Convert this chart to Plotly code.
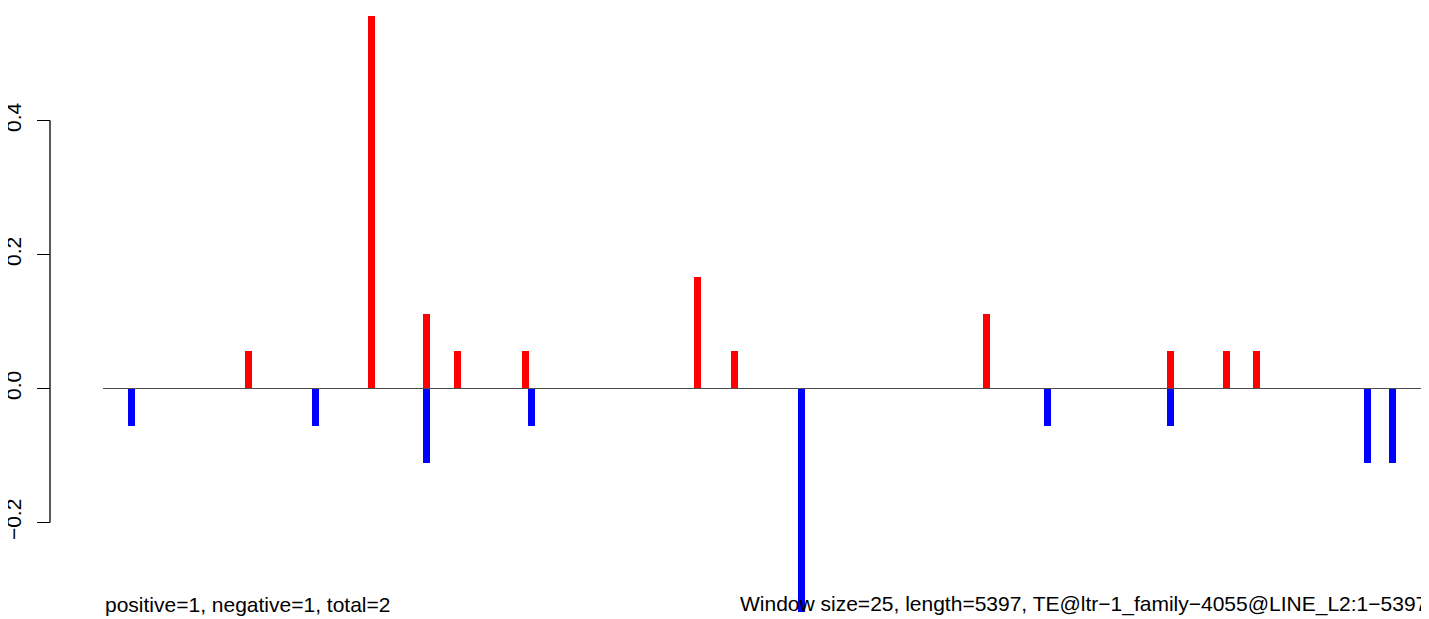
import plotly.graph_objects as go

# ---- data ----
seq_length = 5397
pos_x = [591, 1092, 1316, 1442, 1719, 2419, 2570, 3595, 4344, 4572, 4694]
pos_y = [0.0556, 0.5556, 0.1111, 0.0556, 0.0556, 0.1667, 0.0556, 0.1111, 0.0556, 0.0556, 0.0556]
neg_x = [115, 864, 1316, 1743, 2842, 3843, 4344, 5146, 5248]
neg_y = [-0.0556, -0.0556, -0.1111, -0.0556, -0.3333, -0.0556, -0.0556, -0.1111, -0.1111]
y_ticks = [-0.2, 0.0, 0.2, 0.4]
y_tick_labels = ["\u22120.2", "0.0", "0.2", "0.4"]
left_text = "positive=1, negative=1, total=2"
right_text = "Window size=25, length=5397, TE@ltr\u22121_family\u22124055@LINE_L2:1\u22125397"

# ---- style ----
# the page body has an 8px margin, so the figure is sized to fill the rest of the window
W, H = 1421, 611
FONT = "Liberation Sans, Arial, Helvetica, sans-serif"
bar_w = 27
plot_left_px = 95
axis_px = 42

fig = go.Figure()
fig.add_trace(go.Bar(x=pos_x, y=pos_y, width=bar_w, marker=dict(color="#ff0000", line=dict(width=0)),
                     showlegend=False, hoverinfo="skip"))
fig.add_trace(go.Bar(x=neg_x, y=neg_y, width=bar_w, marker=dict(color="#0000ff", line=dict(width=0)),
                     showlegend=False, hoverinfo="skip"))
fig.add_trace(go.Scatter(x=[0, seq_length], y=[0, 0], mode="lines",
                         line=dict(color="#4d4d4d", width=1), showlegend=False, hoverinfo="skip"))

fig.add_shape(type="line", xref="paper", yref="y",
              x0=axis_px / W, x1=axis_px / W, y0=min(y_ticks), y1=max(y_ticks),
              line=dict(color="black", width=1.3))

fig.add_annotation(text=left_text, xref="paper", yref="paper", x=plot_left_px / W, y=0.0245,
                   xanchor="left", yanchor="middle", showarrow=False,
                   font=dict(family=FONT, size=21, color="black"))
fig.add_annotation(text=right_text, xref="paper", yref="paper", x=1.0, y=0.0245,
                   xanchor="right", yanchor="middle", showarrow=False,
                   font=dict(family=FONT, size=21, color="black"))

fig.update_layout(
    width=W, height=H,
    margin=dict(l=0, r=0, t=0, b=0),
    paper_bgcolor="white", plot_bgcolor="white",
    barmode="overlay", bargap=0,
    xaxis=dict(domain=[plot_left_px / W, 1], range=[0, seq_length], visible=False, fixedrange=True),
    yaxis=dict(anchor="free", position=axis_px / W, range=[-0.344, 0.5679],
               tickvals=y_ticks, ticktext=y_tick_labels, tickangle=-90,
               ticks="outside", ticklen=13, tickwidth=1.3, tickcolor="black",
               ticklabelstandoff=8,
               showline=False, showgrid=False, zeroline=False, automargin=False,
               tickfont=dict(family=FONT, size=21, color="black")),
    font=dict(family=FONT),
)

fig.write_html("out.html")
